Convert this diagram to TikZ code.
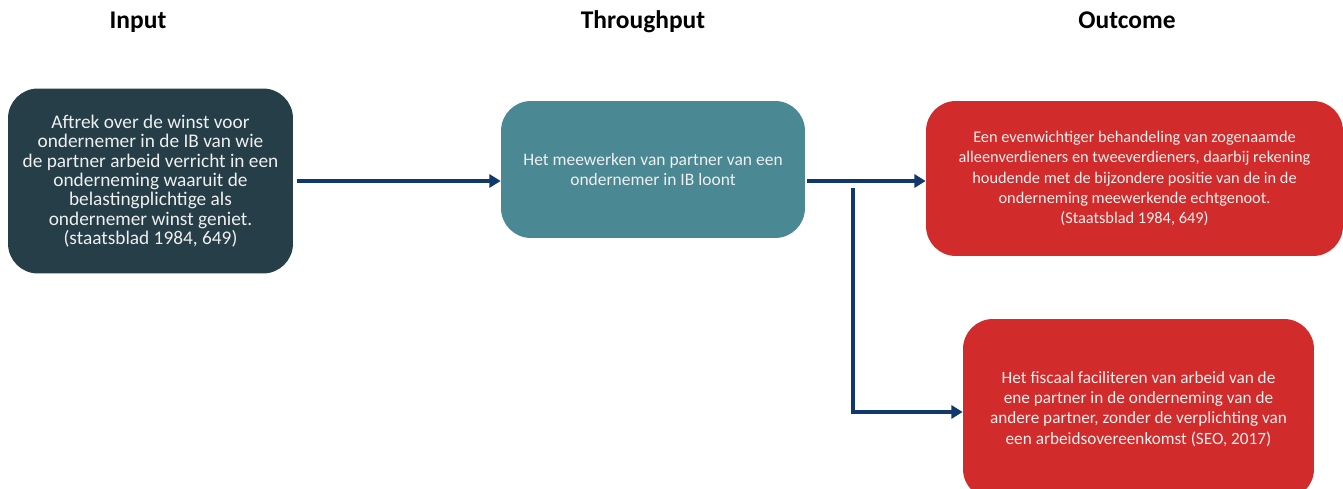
\documentclass[tikz,border=0pt]{standalone}
\usepackage{fontspec}
\setmainfont{Carlito}
\usepackage{xcolor}
\usetikzlibrary{arrows.meta}

\definecolor{inputcol}{HTML}{263E48}
\definecolor{thrcol}{HTML}{4A8894}
\definecolor{outcol}{HTML}{D12B2B}
\definecolor{flowcol}{HTML}{11386A}
\definecolor{txtcol}{HTML}{EFEFEF}

\begin{document}
\begin{tikzpicture}[x=0.02cm,y=-0.02cm,
	head/.style={font=\bfseries\fontsize{14.5}{17}\selectfont, anchor=base},
	box/.style={rounded corners=17pt, align=center, text=txtcol,
		font=\fontsize{9.3}{11.6}\selectfont, inner sep=0pt},
	flow/.style={draw=flowcol, line width=2.3pt,
		-{Triangle[length=6.5pt,width=7.5pt]}}]

\useasboundingbox (0,0) rectangle (1343,489);

% headers
\node[head] (hin)  at ( 138,29) {Input};
\node[head] (hthr) at ( 643,29) {Throughput};
\node[head] (hout) at (1127,29) {Outcome};

% boxes
\node[box, fill=inputcol, minimum width=5.7cm, minimum height=3.7cm,
	font=\fontsize{11}{11}\selectfont] (in) at (150.5,181)
	{Aftrek over de winst voor\\ondernemer in de IB van wie\\de partner arbeid verricht in een\\onderneming waaruit de\\belastingplichtige als\\ondernemer winst geniet.\\(staatsblad 1984, 649)};

\node[box, fill=thrcol, minimum width=6.08cm, minimum height=2.74cm,
	font=\fontsize{9.95}{11.3}\selectfont] (thr) at (653,169.5)
	{Het meewerken van partner van een\\ondernemer in IB loont};

\node[box, fill=outcol, minimum width=8.34cm, minimum height=3.1cm] (out1) at (1134.5,178.5)
	{Een evenwichtiger behandeling van zogenaamde\\alleenverdieners en tweeverdieners, daarbij rekening\\houdende met de bijzondere positie van de in de\\onderneming meewerkende echtgenoot.\\(Staatsblad 1984, 649)};

\node[box, fill=outcol, minimum width=7.02cm, minimum height=3.6cm,
	font=\fontsize{9.8}{11.6}\selectfont] (out2) at (1138.5,409)
	{Het fiscaal faciliteren van arbeid van de\\ene partner in de onderneming van de\\andere partner, zonder de verplichting van\\een arbeidsovereenkomst (SEO, 2017)};

% connectors
\coordinate (split) at (853,188);
\coordinate (bend) at (853,412);

\draw[flow] ([xshift=2pt]in.east) -- (in.east -| thr.west);
\draw[flow] ([xshift=1pt]thr.east |- in.east) -- (out1.west |- in.east);
\draw[flow] (split) -- (bend) -- (bend -| out2.west);

\end{tikzpicture}
\end{document}
